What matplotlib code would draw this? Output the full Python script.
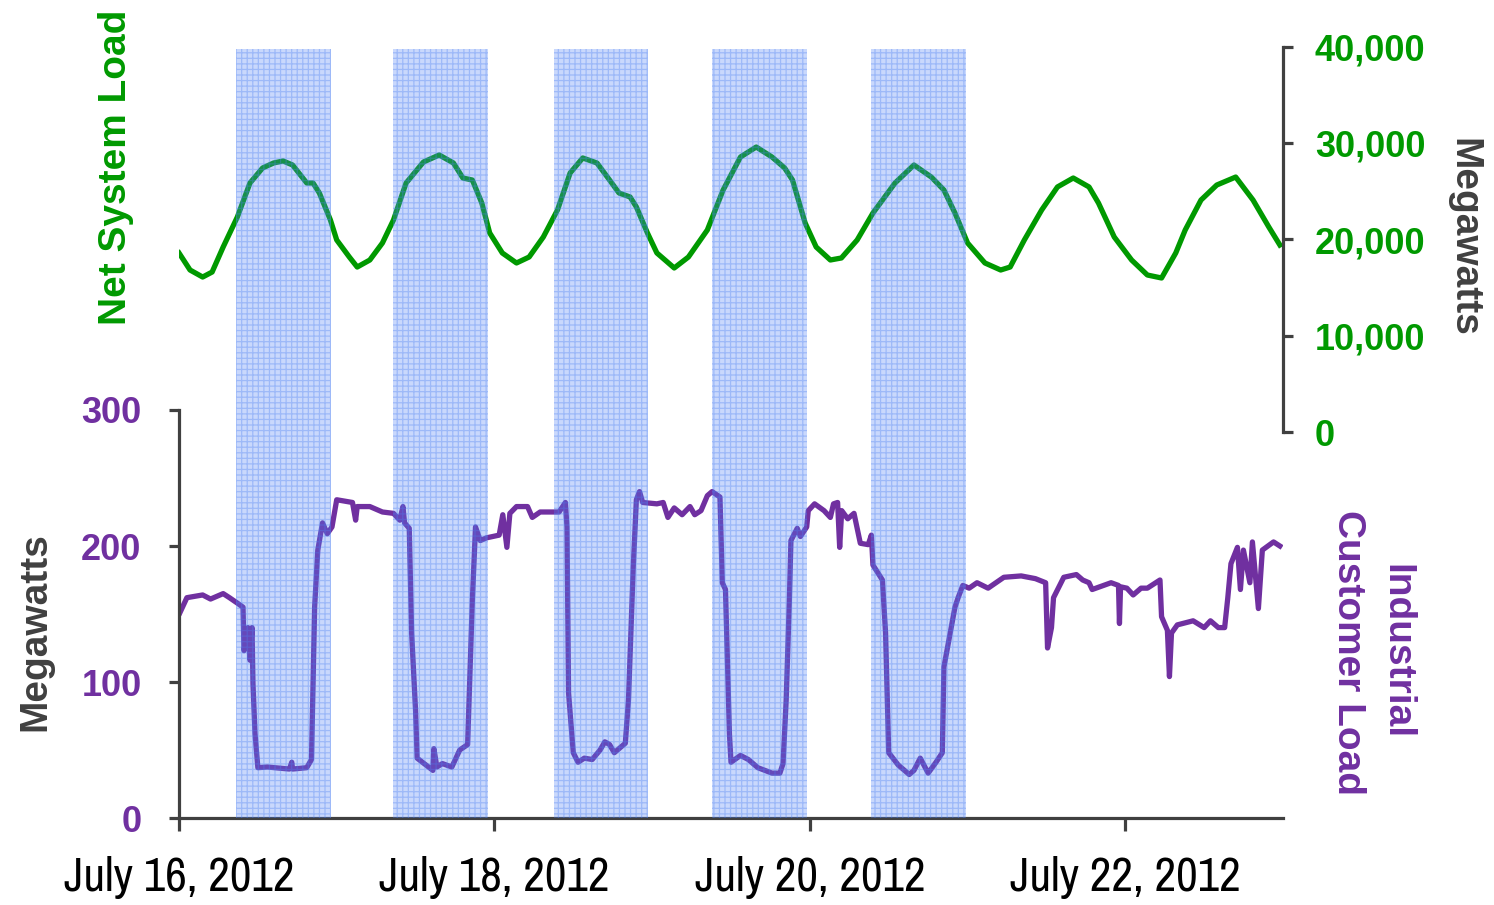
import matplotlib
matplotlib.use("Agg")
import matplotlib.pyplot as plt
from matplotlib import font_manager
from matplotlib.ticker import FuncFormatter

# days after July 16, 2012 00:00
net_days = [0.00, 0.07, 0.15, 0.21, 0.28, 0.37, 0.45, 0.53, 0.60, 0.66, 0.72, 0.81, 0.85, 0.89, 0.96,
            1.00, 1.08, 1.13, 1.21, 1.29, 1.36, 1.44, 1.55, 1.65, 1.74, 1.80, 1.86, 1.92, 1.97,
            2.05, 2.14, 2.22, 2.31, 2.40, 2.48, 2.56, 2.65, 2.73, 2.79, 2.86, 2.90, 2.97,
            3.03, 3.14, 3.23, 3.35, 3.45, 3.56, 3.66, 3.76, 3.84, 3.89, 3.97,
            4.04, 4.13, 4.20, 4.30, 4.40, 4.54, 4.66, 4.77, 4.85, 4.92,
            5.00, 5.11, 5.21, 5.27, 5.36, 5.47, 5.57, 5.67, 5.77, 5.83, 5.93,
            6.04, 6.14, 6.23, 6.32, 6.38, 6.48, 6.58, 6.70, 6.81, 6.91, 6.98]
net_load = [18600, 16830, 16100, 16620, 19220, 22340, 25870, 27430, 27950, 28160, 27740, 25870, 25870, 24830, 22030,
            19950, 18180, 17140, 17870, 19640, 22030, 25870, 28050, 28780, 27950, 26390, 26180, 23790, 20680,
            18600, 17560, 18180, 20260, 23070, 26910, 28470, 27950, 26180, 24830, 24420, 23380, 20680,
            18600, 17040, 18180, 20990, 25140, 28570, 29610, 28570, 27430, 26180, 21720,
            19220, 17870, 18080, 19950, 22750, 25870, 27740, 26490, 25140, 22750,
            19640, 17560, 16830, 17140, 19950, 23070, 25460, 26390, 25460, 23790, 20260,
            17870, 16310, 16000, 18600, 20990, 24100, 25660, 26490, 24100, 21300, 19430]

ind_days = [0.006, 0.05, 0.15, 0.20, 0.28, 0.32, 0.37, 0.406, 0.412, 0.437, 0.450, 0.463, 0.469, 0.482,
            0.50, 0.56, 0.70, 0.715, 0.72, 0.81, 0.84, 0.85, 0.86, 0.88, 0.91, 0.94, 0.97,
            1.00, 1.10, 1.12, 1.13, 1.21, 1.29, 1.36, 1.40, 1.42, 1.43, 1.46, 1.475, 1.50, 1.51,
            1.610, 1.616, 1.635, 1.67, 1.73, 1.78, 1.83, 1.86, 1.88, 1.91, 1.95,
            2.03, 2.053, 2.079, 2.098, 2.14, 2.21, 2.24, 2.29, 2.41, 2.45, 2.46, 2.47, 2.50, 2.53, 2.57,
            2.62, 2.67, 2.70, 2.73, 2.76, 2.83, 2.85, 2.88, 2.90, 2.92, 2.94,
            3.03, 3.07, 3.10, 3.14, 3.19, 3.24, 3.27, 3.31, 3.35, 3.38, 3.43, 3.445, 3.465, 3.49, 3.50,
            3.56, 3.61, 3.67, 3.76, 3.81, 3.83, 3.85, 3.87, 3.88, 3.92, 3.94, 3.98, 3.99,
            4.03, 4.09, 4.13, 4.15, 4.176, 4.189, 4.202, 4.24, 4.28, 4.32, 4.37, 4.39, 4.40, 4.46, 4.48,
            4.50, 4.56, 4.63, 4.66, 4.70, 4.75, 4.80, 4.84, 4.85, 4.89, 4.92, 4.94, 4.97,
            5.01, 5.06, 5.13, 5.23, 5.34, 5.43, 5.495, 5.507, 5.532, 5.545, 5.61, 5.69, 5.73, 5.77, 5.79,
            5.91, 5.957, 5.963, 5.970, 6.01, 6.05, 6.10, 6.14, 6.22, 6.23, 6.267, 6.280, 6.293, 6.33,
            6.43, 6.50, 6.54, 6.59, 6.63, 6.65, 6.67, 6.711, 6.730, 6.749, 6.79, 6.806, 6.844, 6.869,
            6.94, 6.98]
ind_load = [151, 162, 164, 161, 165, 162, 158, 155, 123, 140, 116, 140, 99, 62,
            37, 37.5, 36, 41, 36, 37, 43, 99, 155, 197, 217, 209, 214,
            234, 232, 219, 229, 229, 225, 224, 219, 229, 217, 213, 136, 79, 44,
            35, 51, 37.5, 40, 37.5, 50, 54, 160, 214, 204, 206,
            208, 223, 199, 224, 229, 229, 221, 225, 225, 232, 214, 92, 48, 41, 44,
            43, 50, 56, 54, 48, 55, 87, 184, 234, 240, 232,
            231, 232, 221, 228, 223, 229, 223, 226, 237, 240, 236, 173, 168, 62, 41,
            46, 43, 37, 33, 33, 40, 87, 160, 204, 213, 207, 214, 226,
            231, 226, 221, 231, 232, 199, 226, 220, 224, 202, 201, 208, 186, 175, 136,
            48, 39, 32, 35, 44, 33, 41, 48, 111, 136, 155, 162, 171,
            169, 173, 169, 177, 178, 176, 173, 125, 140, 162, 177, 179, 175, 173, 168,
            173, 171, 143, 170, 169, 164, 169, 169, 175, 148, 138, 104, 136, 142,
            145, 140, 145, 140, 140, 162, 187, 199, 168, 197, 173, 203, 154, 197,
            203, 200]

band_start = [0.361, 1.356, 2.376, 3.378, 4.385]
band_end = [0.963, 1.958, 2.972, 3.980, 4.987]

xtick_pos = [0, 2, 4, 6]
xtick_labels = ["July 16, 2012", "July 18, 2012", "July 20, 2012", "July 22, 2012"]

GREEN = "#009900"
PURPLE = "#7030a0"
GREY = "#404040"
BOLD = "Liberation Sans"

# narrow face for the dates if one is installed
names = {f.name for f in font_manager.fontManager.ttflist}
narrow = sorted(n for n in names if "Narrow" in n or "Condensed" in n)
if narrow:
    date_font, date_size, date_pad = narrow[0], 34, 18
else:
    date_font, date_size, date_pad = "Liberation Sans", 28.5, 21

fig = plt.figure(figsize=(14.94, 9.05), dpi=100)
L, W = 179 / 1494, 1104 / 1494

ax_bot = fig.add_axes([L, 87 / 905, W, 408 / 905])
ax_top = fig.add_axes([L, 473 / 905, W, 385 / 905])
ax_band = fig.add_axes([L, 87 / 905, W, 769 / 905])
for ax in (ax_bot, ax_top, ax_band):
    ax.set_facecolor("none")
    ax.set_xlim(0, 7)

# industrial load (bottom)
ax_bot.plot(ind_days, ind_load, color=PURPLE, lw=3.8, solid_joinstyle="round")
ax_bot.set_ylim(0, 300)
ax_bot.set_yticks([0, 100, 200, 300])
for s in ("top", "right"):
    ax_bot.spines[s].set_visible(False)
for s in ("left", "bottom"):
    ax_bot.spines[s].set_color(GREY)
    ax_bot.spines[s].set_linewidth(2.3)
ax_bot.tick_params(axis="y", direction="out", length=7, width=2.3, color=GREY,
                   pad=20, labelsize=26, labelcolor=PURPLE)
ax_bot.tick_params(axis="x", direction="out", length=9, width=2.3, color=GREY, pad=date_pad)
ax_bot.set_xticks(xtick_pos)
ax_bot.set_xticklabels(xtick_labels, fontsize=date_size, family=date_font)
for t in ax_bot.get_yticklabels():
    t.set_fontweight("bold")
    t.set_family(BOLD)

# net system load (top)
ax_top.plot(net_days, net_load, color=GREEN, lw=3.8, solid_joinstyle="round")
ax_top.set_ylim(0, 40000)
ax_top.set_yticks([0, 10000, 20000, 30000, 40000])
ax_top.yaxis.set_major_formatter(FuncFormatter(lambda v, p: f"{int(v):,}"))
ax_top.yaxis.tick_right()
ax_top.set_xticks([])
for s in ("top", "left", "bottom"):
    ax_top.spines[s].set_visible(False)
ax_top.spines["right"].set_color(GREY)
ax_top.spines["right"].set_linewidth(2.3)
ax_top.tick_params(axis="y", direction="out", length=7, width=2.3, color=GREY,
                   pad=16, labelsize=26, labelcolor=GREEN)
for t in ax_top.get_yticklabels():
    t.set_fontweight("bold")
    t.set_family(BOLD)

# shaded periods, drawn over the lines
plt.rcParams["hatch.linewidth"] = 0.9
ax_band.axis("off")
ax_band.set_ylim(0, 1)
for a, b in zip(band_start, band_end):
    ax_band.axvspan(a, b, 0, 1, facecolor=(0.30, 0.50, 0.97, 0.30),
                    edgecolor=(0.30, 0.50, 0.95, 0.35), hatch="+++", linewidth=0)

fig.text(116 / 1494, 1 - 167 / 905, "Net System Load", rotation=90, color=GREEN,
         fontsize=28, fontweight="bold", family=BOLD, ha="center", va="center")
fig.text(1463 / 1494, 1 - 237 / 905, "Megawatts", rotation=-90, color=GREY,
         fontsize=28, fontweight="bold", family=BOLD, ha="center", va="center")
fig.text(35 / 1494, 1 - 632 / 905, "Megawatts", rotation=90, color=GREY,
         fontsize=28, fontweight="bold", family=BOLD, ha="center", va="center")
fig.text(1372 / 1494, 1 - 652 / 905, "Industrial\nCustomer Load", rotation=-90, color=PURPLE,
         fontsize=28, fontweight="bold", family=BOLD, ha="center", va="center",
         multialignment="center", linespacing=1.45)

fig.savefig("out.png", dpi=100)
